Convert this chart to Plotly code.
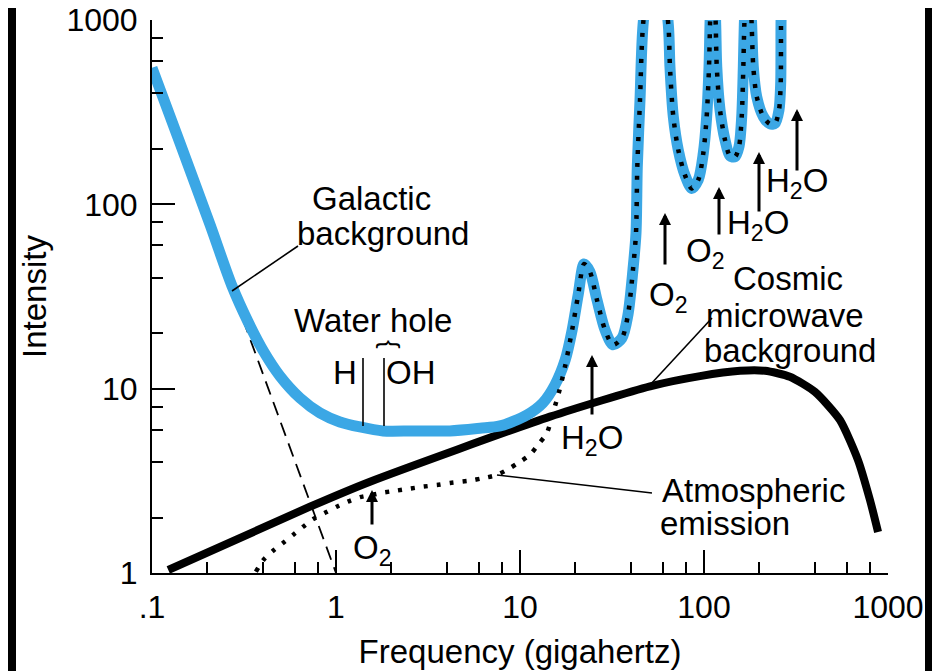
import plotly.graph_objects as go

# ---------------- data ----------------
# Galactic background (dashed)
gal_freq = [0.1, 1.0]
gal_int = [525, 1.0]

# Total noise (blue) – low-frequency part
blue_freq = [0.1, 0.142, 0.207, 0.272, 0.333, 0.406, 0.496, 0.637, 0.819, 1.05,
             1.35, 1.80, 2.62, 4.16, 6.06, 7.79, 10.9, 13.3, 15.5, 17.6]
blue_int = [550, 215, 77.3, 36.1, 23.0, 15.8, 11.7, 8.90, 7.38, 6.60,
            6.20, 5.90, 5.90, 5.90, 6.10, 6.28, 7.20, 8.36, 10.5, 14.3]

# Atmospheric emission (dotted) – low-frequency part
atm_freq = [0.367, 0.403, 0.455, 0.515, 0.584, 0.662, 0.75, 0.871, 1.01, 1.16,
            1.35, 1.56, 1.80, 2.14, 2.52, 2.97, 3.53, 4.17, 5.35, 6.29,
            7.47, 8.47, 9.75, 11.3, 12.5, 14.0, 15.1, 16.3, 17.6]
atm_int = [1.016, 1.176, 1.32, 1.455, 1.61, 1.78, 1.96, 2.12, 2.29, 2.44,
           2.58, 2.65, 2.73, 2.80, 2.87, 2.94, 3.00, 3.08, 3.17, 3.27,
           3.40, 3.62, 3.95, 4.37, 4.95, 5.75, 7.38, 9.6, 13.3]

# Water and oxygen absorption lines (shared by blue and dotted curves)
peak_freq = [19.2, 20.7, 22.3, 24.0, 26.2, 29.0, 32.0, 35.8, 38.6, 41.1,
             42.7, 43.4, 44.9, 46.8, 55, 64.0, 65.3, 68.1, 72.5, 78.8,
             85.7, 93.1, 99.1, 103.4, 106.5, 107.8, 111.6, 115.8, 117.3, 122.2,
             130.0, 138.4, 147.4, 155.0, 160.3, 163.6, 165.6, 173.4, 181.6, 185.3,
             193.4, 210.1, 228.4, 243.2, 255.6, 261.1, 262.1, 263.5]
peak_int = [20.8, 32.2, 47.5, 43.0, 30.3, 20.8, 17.3, 18.8, 25.1, 44.1,
            69.9, 160, 369, 980, 3000, 940, 559, 299, 197, 144,
            122, 136, 189, 299, 559, 940, 3000, 940, 559, 325,
            224, 183, 181, 206, 299, 559, 940, 3000, 940, 559,
            384, 299, 273, 275, 325, 454, 940, 1500]

# Cosmic microwave background (solid black)
cmb_freq = [0.1226, 0.722, 1.53, 14.55, 50.9, 95.1, 157, 214.6, 293, 401,
            548, 687, 798, 883]
cmb_int = [1.038, 2.29, 3.13, 7.05, 10.3, 11.7, 12.5, 12.5, 11.6, 9.6,
           6.76, 4.1, 2.49, 1.67]

x_major = [0.1, 1, 10, 100, 1000]
x_major_text = [".1", "1", "10", "100", "1000"]
y_major = [1, 10, 100, 1000]
y_major_text = ["1", "10", "100", "1000"]
minor_vals = [m * 10 ** e for e in range(-1, 3) for m in (2, 4, 6, 8)]

# ---------------- figure ----------------
# The page places the figure 8 px from the top-left of the window (body margin),
# so the figure is 8 px smaller and all window positions are shifted by 8 px.
OFF = 8
WIN_W, WIN_H = 940, 671
W, H = WIN_W - OFF, WIN_H - OFF
PL, PR, PT, PB = 152, 888, 20, 573       # plot box in window pixels
L, R, T, B = PL - OFF, WIN_W - PR, PT - OFF, WIN_H - PB
PW, PH = PR - PL, PB - PT


def P(px, py):
    """window pixel position -> paper coordinates (for annotation placement)"""
    return (px - PL) / PW, (PB - py) / PH


BLUE = "#3BA7E5"
FONT = "Liberation Sans, Arial, Helvetica, sans-serif"
FS = 33
TFS = 32

fig = go.Figure()
fig.add_trace(go.Scatter(x=gal_freq, y=gal_int, mode="lines",
                         line=dict(color="black", width=1.8, dash="14px,8px"),
                         hoverinfo="skip"))
fig.add_trace(go.Scatter(x=cmb_freq, y=cmb_int, mode="lines",
                         line=dict(color="black", width=8, shape="spline", smoothing=0.6),
                         hoverinfo="skip"))
fig.add_trace(go.Scatter(x=blue_freq + peak_freq, y=blue_int + peak_int, mode="lines",
                         line=dict(color=BLUE, width=11, shape="spline", smoothing=0.8),
                         hoverinfo="skip"))
fig.add_trace(go.Scatter(x=atm_freq + peak_freq, y=atm_int + peak_int, mode="lines",
                         line=dict(color="black", width=4.5, dash="4px,9px",
                                   shape="spline", smoothing=0.8),
                         hoverinfo="skip"))

shapes = []
# white page with black border strips
x0, y1 = P(16, 6)
x1, y0 = P(925, 680)
shapes.append(dict(type="rect", xref="paper", yref="paper", x0=x0, x1=x1, y0=y0, y1=y1,
                   fillcolor="white", line=dict(width=0), layer="below"))


def seg(a, b, w=1.6):
    ax_, ay_ = P(*a)
    bx_, by_ = P(*b)
    shapes.append(dict(type="line", xref="paper", yref="paper", x0=ax_, y0=ay_, x1=bx_, y1=by_,
                       line=dict(color="black", width=w)))


seg((298, 246), (232, 291))      # galactic pointer
seg((497, 475), (652, 493))      # atmospheric pointer
seg((650, 385), (712, 318))      # cmb pointer
seg((363, 358), (363, 426), 1.6)  # H line
seg((384, 358), (384, 426), 1.6)  # OH line

annotations = []


def txt(s, px, py, size=FS):
    x, y = P(px, py)
    annotations.append(dict(text=s, x=x, y=y, xref="paper", yref="paper", showarrow=False,
                            xanchor="center", yanchor="middle",
                            font=dict(family=FONT, size=size, color="black")))


def arrow(px, tip, tail):
    x, y = P(px, tip)
    annotations.append(dict(text="", x=x, y=y, xref="paper", yref="paper", showarrow=True,
                            ax=0, ay=tail - tip, arrowhead=2, arrowwidth=3, arrowsize=0.8,
                            arrowcolor="black"))


txt("Galactic", 371, 198)
txt("background", 383, 233)
txt("Water hole", 373, 320)
annotations.append(dict(text="{", x=P(373, 344)[0], y=P(373, 344)[1], xref="paper", yref="paper",
                        showarrow=False, textangle=90,
                        font=dict(family=FONT, size=26, color="black")))
txt("H", 345, 372)
txt("OH", 411, 372)
txt("H<sub>2</sub>O", 592, 440)
txt("O<sub>2</sub>", 372, 550)
txt("Atmospheric", 753, 490)
txt("emission", 725, 523)
txt("Cosmic", 788, 278)
txt("microwave", 785, 315)
txt("background", 790, 350)
txt("O<sub>2</sub>", 668, 297)
txt("O<sub>2</sub>", 705, 253)
txt("H<sub>2</sub>O", 758, 225)
txt("H<sub>2</sub>O", 797, 183)

arrow(372, 490, 526)
arrow(592, 355, 416)
arrow(665, 213, 266)
arrow(719, 187, 236)
arrow(759, 152, 213)
arrow(797, 109, 172)

axis_common = dict(type="log", showline=True, linecolor="black", linewidth=2,
                   ticks="inside", ticklen=23, tickwidth=2, tickcolor="black",
                   showgrid=False, zeroline=False, mirror=False, automargin=False,
                   ticklabeloverflow="allow",
                   tickfont=dict(family=FONT, size=TFS, color="black"),
                   minor=dict(tickmode="array", tickvals=minor_vals, ticks="inside",
                              ticklen=11, tickwidth=2, tickcolor="black", showgrid=False))

fig.update_layout(
    width=W, height=H,
    margin=dict(l=L, r=R, t=T, b=B, pad=0, autoexpand=False),
    paper_bgcolor="black", plot_bgcolor="white",
    showlegend=False,
    shapes=shapes, annotations=annotations,
    xaxis=dict(axis_common, range=[-1, 3], tickmode="array", tickvals=x_major,
               ticktext=x_major_text, ticklabelstandoff=5,
               title=dict(text="Frequency (gigahertz)", standoff=15,
                          font=dict(family=FONT, size=FS, color="black"))),
    yaxis=dict(axis_common, range=[0, 3], tickmode="array", tickvals=y_major,
               ticktext=y_major_text, ticklabelstandoff=6,
               title=dict(text="Intensity", standoff=10,
                          font=dict(family=FONT, size=FS, color="black"))),
)

fig.write_html("out.html")
